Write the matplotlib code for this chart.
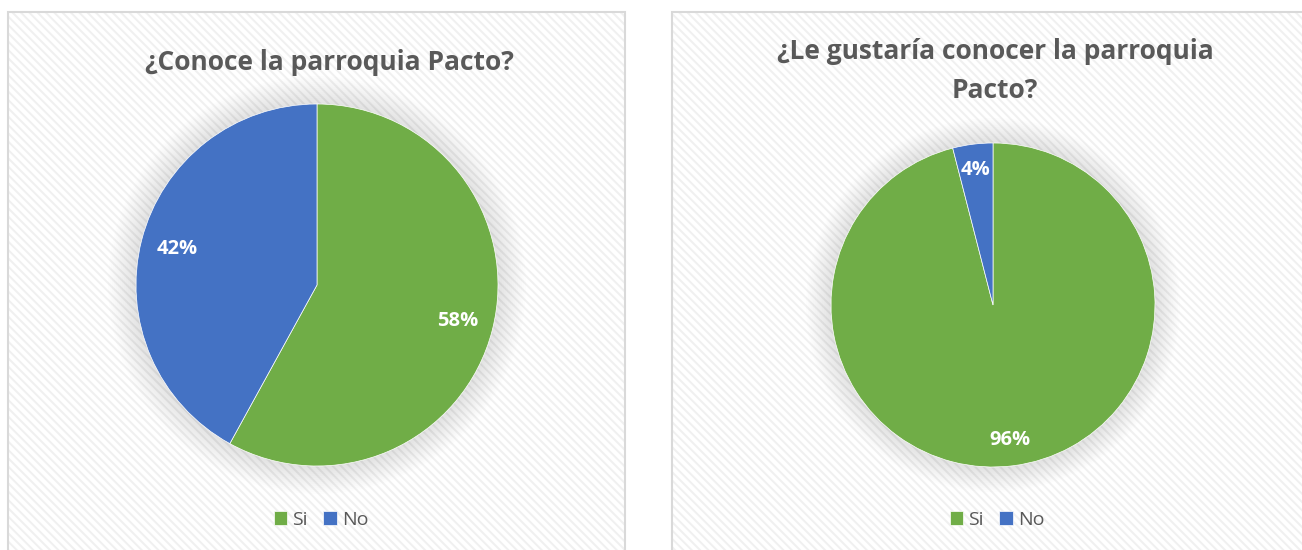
import numpy as np
import matplotlib
matplotlib.use('Agg')
import matplotlib.pyplot as plt
from matplotlib.patches import Rectangle, Circle

# data
labels = ['Si', 'No']
conoce = [58, 42]
gustaria = [96, 4]
colors = ['#70AD47', '#4472C4']
title_left = '¿Conoce la parroquia Pacto?'
title_right = '¿Le gustaría conocer la parroquia\nPacto?'

W, H = 1302, 550
plt.rcParams['font.family'] = ['Open Sans', 'DejaVu Sans']
plt.rcParams['hatch.linewidth'] = 1.4
plt.rcParams['hatch.color'] = '#F0F0F0'

fig = plt.figure(figsize=(W / 100, H / 100), dpi=100)
fig.patch.set_facecolor('white')


def px_rect(x0, y0, x1, y1):
    # pixel box (top-left origin) -> figure fraction [left, bottom, w, h]
    return [x0 / W, 1 - y1 / H, (x1 - x0) / W, (y1 - y0) / H]


# panel backgrounds with fine diagonal stripes
for x0, x1 in [(8, 625), (672, 1310)]:
    l, b, w, h = px_rect(x0, 12, x1, 560)
    fig.patches.append(Rectangle((l, b), w, h, transform=fig.transFigure,
                                 facecolor='white', edgecolor='#F0F0F0',
                                 hatch='\\\\\\\\', lw=0, zorder=0))
    fig.patches.append(Rectangle((l, b), w, h, transform=fig.transFigure,
                                 facecolor='none', edgecolor='#D9D9D9',
                                 lw=1.5, zorder=1))


def draw_pie(cx, cy, r, values, title, title_x, title_y, pctdist):
    ax = fig.add_axes(px_rect(cx - r, cy - r, cx + r, cy + r))
    ax.set_zorder(2)
    # soft shadow around the pie
    for i in range(14):
        ax.add_patch(Circle((0, 0), 1 + 0.011 * (i + 1), color='#000000',
                            alpha=0.009, lw=0, clip_on=False))
    wedges, texts, autotexts = ax.pie(
        values, colors=colors, startangle=90, counterclock=False,
        autopct='%d%%', pctdistance=pctdist, radius=1,
        wedgeprops=dict(linewidth=0.5, edgecolor='white'),
        textprops=dict(color='white', fontsize=14.5, fontweight='bold'))
    ax.set_xlim(-1, 1)
    ax.set_ylim(-1, 1)
    ax.axis('off')
    fig.text(title_x / W, 1 - title_y / H, title, ha='center', va='center',
             fontsize=19, fontweight='bold', color='#595959',
             linespacing=1.55)
    fig.legend(wedges, labels, loc='center',
               bbox_to_anchor=(cx / W + 0.003, 1 - 520 / H), ncol=2,
               frameon=False, fontsize=14, labelcolor='#595959',
               handlelength=0.7, handleheight=0.7, handletextpad=0.25,
               columnspacing=0.8)


draw_pie(317, 285, 181, conoce, title_left, 329, 63, 0.8)
draw_pie(993, 305, 162, gustaria, title_right, 995, 71, 0.84)

fig.savefig('out.png', dpi=100)
